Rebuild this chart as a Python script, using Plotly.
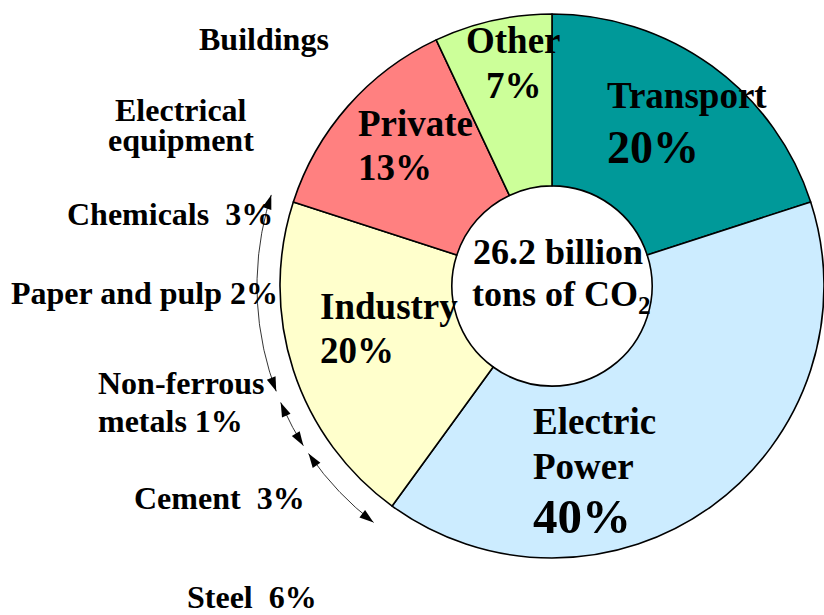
import math
import plotly.graph_objects as go

W, H = 824, 615

# ---------------- data ----------------
SECTORS = ["Transport", "Electric Power", "Industry", "Private", "Other"]
SHARES = [20, 40, 20, 13, 7]
COLORS = ["#009999", "#CCECFF", "#FFFFCC", "#FF8080", "#CCFF99"]

TOTAL_LINES = ["26.2 billion", "tons of CO<sub>2</sub>"]

SUB_NAMES = ["Buildings", "Electrical equipment", "Chemicals", "Paper and pulp",
             "Non-ferrous metals", "Cement", "Steel"]
SUB_SHARES = [None, None, 3, 2, 1, 3, 6]

# ---------------- layout constants ----------------
FONT = "Liberation Serif, Times New Roman, serif"

# per-sector label placement: (x, y, size, xanchor) for each line (name lines then percent)
SECTOR_POS = {
    "Transport": [(605, 95, 37, "left"), (605, 147, 46, "left")],
    "Electric Power": [(531, 421.5, 37, "left"), (531, 466.5, 37, "left"), (531, 516.5, 49, "left")],
    "Industry": [(318, 306.5, 37, "left"), (318, 350.5, 37, "left")],
    "Private": [(356, 123.5, 37, "left"), (356, 167.5, 37, "left")],
    "Other": [(513.5, 40.5, 37, "center"), (514, 85, 37, "center")],
}
SECTOR_SPLIT = {"Electric Power": ["Electric", "Power"]}

SUB_POS = [
    [(264, 38.5, "center")],
    [(180.5, 109.5, "center"), (180.5, 140, "center")],
    [(170, 213.5, "center")],
    [(144.5, 292.5, "center")],
    [(96, 383, "left"), (96, 420.5, "left")],
    [(219, 498, "center")],
    [(251.5, 597, "center")],
]
SUB_SPLIT = {"Electrical equipment": ["Electrical", "equipment"],
             "Non-ferrous metals": ["Non-ferrous", "metals"]}
SUB_SIZE = 32

TOTAL_POS = [(558, 251.5), (561, 296)]
TOTAL_SIZE = 36

ARC_C = (555, 286)
ARC_R = 298
ARC_SEGMENTS = [(287.8, 249.3), (247.0, 237.6), (235.8, 217.5)]  # compass degrees

fig = go.Figure()

fig.add_trace(go.Pie(
    values=SHARES, labels=SECTORS,
    marker=dict(colors=COLORS, line=dict(color="black", width=1.6)),
    sort=False, direction="clockwise", rotation=0, hole=0.368,
    textinfo="none", hoverinfo="skip", showlegend=False,
    domain=dict(x=[280 / W, 1], y=[1 - 558 / H, 1 - 14 / H]),
))

annotations = []


def arc_pt(t_deg):
    t = math.radians(t_deg)
    return ARC_C[0] + ARC_R * math.sin(t), ARC_C[1] - ARC_R * math.cos(t)


head_x, head_y, head_ang = [], [], []
for a_hi, a_lo in ARC_SEGMENTS:
    n = 80
    ts = [a_lo + (a_hi - a_lo) * i / n for i in range(n + 1)]
    pts = [arc_pt(t) for t in ts]
    fig.add_trace(go.Scatter(x=[p[0] for p in pts], y=[p[1] for p in pts], mode="lines",
                             line=dict(color="black", width=0.8), hoverinfo="skip",
                             showlegend=False))
    for ang, sgn in ((a_hi, 1), (a_lo, -1)):
        tx, ty = arc_pt(ang)
        t = math.radians(ang)
        dx, dy = math.cos(t) * sgn, math.sin(t) * sgn
        head_x.append(tx)
        head_y.append(ty)
        head_ang.append(math.degrees(math.atan2(dx, -dy)))

fig.add_trace(go.Scatter(x=head_x, y=head_y, mode="markers",
                         marker=dict(symbol="arrow", size=15, angle=head_ang, color="black",
                                     line=dict(width=0)),
                         hoverinfo="skip", showlegend=False))


def add_text(txt, x, y, size, xanchor):
    annotations.append(dict(x=x, y=y, xref="x", yref="y", text=txt, showarrow=False,
                            xanchor=xanchor, yanchor="middle",
                            font=dict(family=FONT, size=size, color="black", weight="bold")))


for name, share in zip(SECTORS, SHARES):
    lines = SECTOR_SPLIT.get(name, [name]) + [f"{share}%"]
    for line, (x, y, s, xa) in zip(lines, SECTOR_POS[name]):
        add_text(line, x, y, s, xa)

for name, share, pos in zip(SUB_NAMES, SUB_SHARES, SUB_POS):
    lines = list(SUB_SPLIT.get(name, [name]))
    if share is not None:
        sep = " " if name == "Paper and pulp" or name in SUB_SPLIT else "\u00a0\u00a0"
        lines[-1] = lines[-1] + sep + f"{share}%"
    for line, (x, y, xa) in zip(lines, pos):
        add_text(line, x, y, SUB_SIZE, xa)

for line, (x, y) in zip(TOTAL_LINES, TOTAL_POS):
    add_text(line, x, y, TOTAL_SIZE, "center")

fig.update_layout(
    width=W, height=H, margin=dict(l=0, r=0, t=0, b=0),
    paper_bgcolor="white", plot_bgcolor="rgba(0,0,0,0)",
    xaxis=dict(range=[0, W], visible=False, fixedrange=True),
    yaxis=dict(range=[H, 0], visible=False, fixedrange=True),
    annotations=annotations, showlegend=False,
)

fig.write_html("out.html", config={"displayModeBar": False},
               post_script="document.body.style.margin='0';document.body.style.overflow='hidden';")
